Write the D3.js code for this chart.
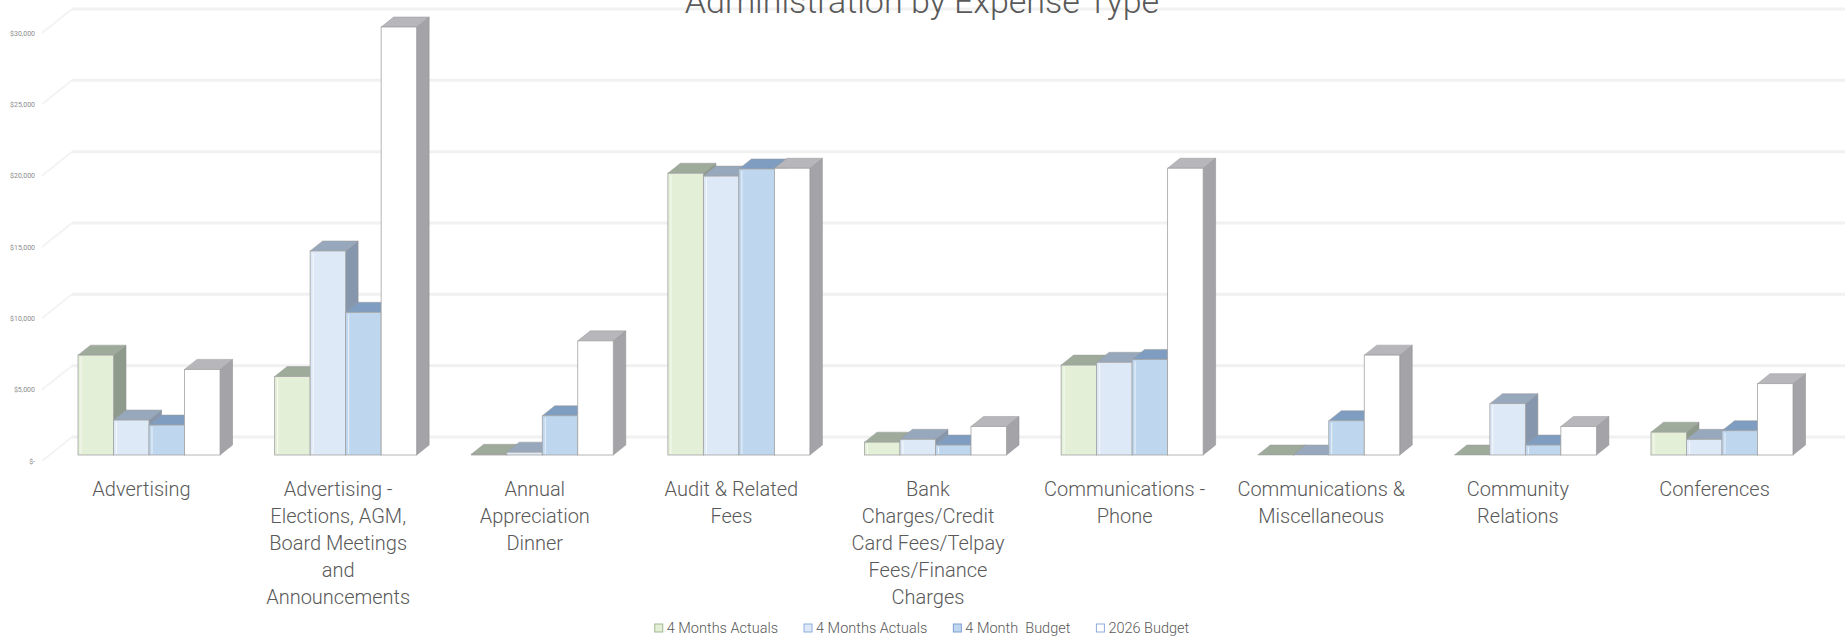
<!DOCTYPE html>
<html>
<head>
<meta charset="utf-8">
<title>Administration by Expense Type</title>
<script src="https://cdn.jsdelivr.net/npm/d3@7"></script>
<style>
  html, body { margin: 0; padding: 0; background: #ffffff; }
  svg { display: block; font-family: Roboto, "Open Sans", sans-serif; }
</style>
</head>
<body>
<svg id="chart" width="1845" height="640"></svg>
<script>
// Expense categories (x axis)
const categories = [
  "Advertising",
  "Advertising - Elections, AGM, Board Meetings and Announcements",
  "Annual Appreciation Dinner",
  "Audit & Related Fees",
  "Bank Charges/Credit Card Fees/Telpay Fees/Finance Charges",
  "Communications - Phone",
  "Communications & Miscellaneous",
  "Community Relations",
  "Conferences"
];

// Series names as shown in the legend
const seriesNames = ["4 Months Actuals", "4 Months Actuals", "4 Month  Budget", "2026 Budget"];

// Series values, one entry per category
const actualsA   = [7000,  5500,  50,   19750, 900,  6300,  0,    0,    1600];
const actualsB   = [2450,  14300, 200,  19550, 1100, 6500,  0,    3600, 1100];
const budget4    = [2100,  10000, 2750, 20050, 700,  6700,  2400, 700,  1700];
const budget2026 = [6000,  30000, 8000, 20100, 2000, 20100, 7000, 2000, 5000];

// Value axis ticks
const yTicks = [0, 5000, 10000, 15000, 20000, 25000, 30000];

const seriesValues = [actualsA, actualsB, budget4, budget2026];

// Face colours per series: front, top, right side
const frontColors = ["#e4efd8", "#dde9f6", "#bed6ee", "#ffffff"];
const topColors   = ["#9eab9b", "#97a8bd", "#7e9dc0", "#b6b6bb"];
const sideColors  = ["#8e9a8c", "#8697ad", "#6d8bae", "#a3a3a8"];
const legendStroke = ["#9fb98f", "#8faedb", "#7f9fd0", "#8eaadb"];

const svg = d3.select("#chart");
const W = 1845;

// Oblique depth of the plot box (floor front edge -> back wall)
const DX = 30, DY = -24;
// Bars sit between these fractions of the depth
const Z0 = 0.25, Z1 = 0.667;

// Value scale on the front plane of the box
const y = d3.scaleLinear().domain([0, 30000]).range([461, 33]);

// Category scale on the front plane
const x = d3.scaleBand()
  .domain(categories)
  .range([42, 1814])
  .paddingInner(0.2777)
  .paddingOuter(0.145);

const xs = d3.scaleBand()
  .domain(d3.range(seriesNames.length))
  .range([0, x.bandwidth()]);

const wallFrontX = 42;
const wallBackX = wallFrontX + DX;

// Gridlines: left side wall and back wall
const grid = svg.append("g").attr("class", "grid");
yTicks.forEach(v => {
  grid.append("line")
    .attr("x1", wallFrontX).attr("y1", y(v))
    .attr("x2", wallBackX).attr("y2", y(v) + DY)
    .attr("stroke", "#f3f3f3").attr("stroke-width", 2);
  grid.append("line")
    .attr("x1", wallBackX).attr("y1", y(v) + DY)
    .attr("x2", W).attr("y2", y(v) + DY)
    .attr("stroke", "#f1f1f1").attr("stroke-width", 3);
});

// Value axis labels
const yAxis = d3.axisLeft(y)
  .tickValues(yTicks)
  .tickSize(0)
  .tickPadding(0)
  .tickFormat(v => v === 0 ? "$-" : d3.format("$,")(v));

const yG = svg.append("g")
  .attr("transform", "translate(35,0)")
  .call(yAxis);
yG.select(".domain").remove();
yG.selectAll("text")
  .attr("fill", "#8c8c8c")
  .style("font-size", "7px")
  .style("font-family", "Roboto, sans-serif");

// 3D columns
const bdx = (Z1 - Z0) * DX, bdy = (Z1 - Z0) * DY;
const bars = svg.append("g").attr("class", "bars");

categories.forEach((cat, ci) => {
  seriesValues.forEach((vals, si) => {
    const v = vals[ci];
    const fx = x(cat) + xs(si) + Z0 * DX;
    const w = xs.bandwidth();
    const yb = y(0) + Z0 * DY;
    const yt = y(v) + Z0 * DY;
    const g = bars.append("g");
    // right side
    g.append("polygon")
      .attr("points", [[fx + w, yb], [fx + w + bdx, yb + bdy], [fx + w + bdx, yt + bdy], [fx + w, yt]].join(" "))
      .attr("fill", sideColors[si])
      .attr("stroke", "#8c8c8c").attr("stroke-width", 0.5);
    // top
    g.append("polygon")
      .attr("points", [[fx, yt], [fx + bdx, yt + bdy], [fx + w + bdx, yt + bdy], [fx + w, yt]].join(" "))
      .attr("fill", topColors[si])
      .attr("stroke", "#9a9a9a").attr("stroke-width", 0.5);
    // front
    g.append("rect")
      .attr("x", fx).attr("y", yt)
      .attr("width", w).attr("height", Math.max(0, yb - yt))
      .attr("fill", frontColors[si])
      .attr("stroke", "#a3a3a3").attr("stroke-width", 0.8);
    // soft bevel line near the left edge of the front face
    if (yb - yt > 4) {
      g.append("line")
        .attr("x1", fx + 3).attr("x2", fx + 3)
        .attr("y1", yt + 2).attr("y2", yb - 1)
        .attr("stroke", "#ffffff").attr("stroke-opacity", 0.7).attr("stroke-width", 1);
    }
  });
});

// Title
svg.append("text")
  .attr("x", 922).attr("y", 13)
  .attr("text-anchor", "middle")
  .attr("fill", "#595959")
  .style("font-size", "34px")
  .style("font-weight", 300)
  .text("Administration by Expense Type");

// Category labels, wrapped to the category width
const labelG = svg.append("g").attr("class", "x-labels");
const maxLabelWidth = 171;
categories.forEach(cat => {
  const cx = x(cat) + x.bandwidth() / 2;
  const t = labelG.append("text")
    .attr("x", cx)
    .attr("y", 496)
    .attr("text-anchor", "middle")
    .attr("fill", "#595959")
    .style("font-size", "20px")
    .style("font-weight", 300);
  const words = cat.split(" ");
  let line = [];
  let tspan = t.append("tspan").attr("x", cx).attr("dy", 0);
  words.forEach(word => {
    line.push(word);
    tspan.text(line.join(" "));
    if (tspan.node().getComputedTextLength() > maxLabelWidth && line.length > 1) {
      line.pop();
      tspan.text(line.join(" "));
      line = [word];
      tspan = t.append("tspan")
        .attr("x", cx)
        .attr("dy", 27)
        .text(word);
    }
  });
});

// Legend
const legend = svg.append("g").attr("class", "legend");
let lx = 0;
seriesNames.forEach((name, i) => {
  const item = legend.append("g").attr("transform", `translate(${lx},0)`);
  item.append("rect")
    .attr("x", 0).attr("y", -9)
    .attr("width", 8).attr("height", 8)
    .attr("fill", frontColors[i])
    .attr("stroke", legendStroke[i]).attr("stroke-width", 1);
  const txt = item.append("text")
    .attr("x", 12).attr("y", 0)
    .attr("fill", "#595959")
    .style("font-size", "14.5px")
    .style("font-weight", 300)
    .style("white-space", "pre")
    .text(name);
  lx += 12 + txt.node().getComputedTextLength() + 26;
});
const legendWidth = lx - 26;
legend.attr("transform", `translate(${922 - legendWidth / 2},633)`);
</script>
</body>
</html>
